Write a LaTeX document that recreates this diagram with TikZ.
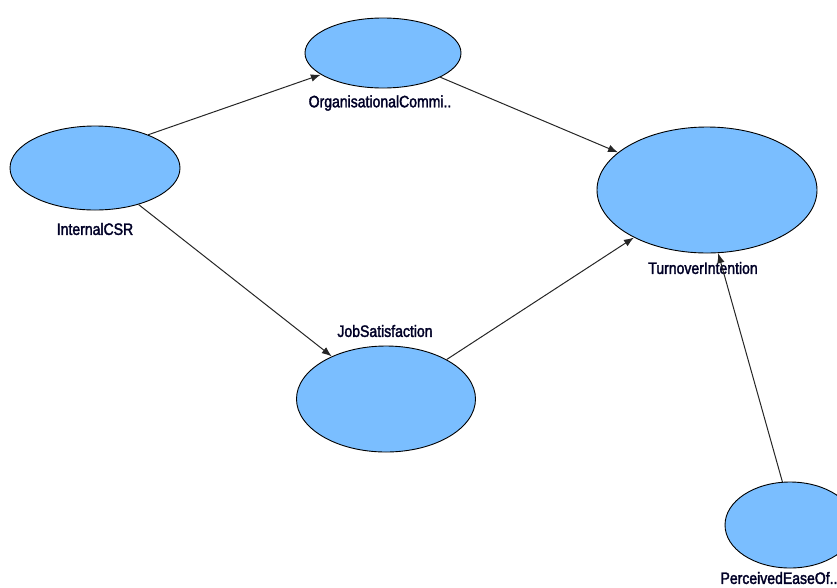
\documentclass[tikz,border=0pt]{standalone}
\usepackage{fontspec}
\newfontfamily\lblfont[FakeStretch=0.85,FakeBold=2]{Liberation Sans}
\usetikzlibrary{shapes.geometric,arrows.meta}
\definecolor{ovalblue}{RGB}{122,190,255}
\tikzset{
  latent/.style={ellipse,draw=black,line width=0.9pt,fill=ovalblue,inner sep=0pt},
  lbl/.style={font=\lblfont\fontsize{16.5}{18}\selectfont,text=black!85!blue,inner sep=0pt},
  path/.style={-{Latex[length=10pt,width=7.5pt]},line width=1pt,black!85}
}
\begin{document}
\begin{tikzpicture}[x=1pt,y=-1pt]
\useasboundingbox (0,0) rectangle (837,587);
\node[latent,minimum width=156pt,minimum height=70pt] (oc) at (383,53) {};
\node[latent,minimum width=170pt,minimum height=84pt] (csr) at (95,168) {};
\node[latent,minimum width=179pt,minimum height=106pt] (js) at (386,399) {};
\node[latent,minimum width=220pt,minimum height=126pt] (ti) at (707,190) {};
\node[latent,minimum width=130pt,minimum height=86pt] (pe) at (790,525) {};
\node[lbl] (ocl) at (380,103) {OrganisationalCommi..};
\node[lbl] (csrl) at (95,229) {InternalCSR};
\node[lbl] (jsl) at (385,331) {JobSatisfaction};
\node[lbl] (til) at (703,268) {TurnoverIntention};
\node[lbl] (pel) at (779,578) {PerceivedEaseOf..};
\draw[path] (csr.32) -- (oc);
\draw[path] (oc) -- (ti);
\draw[path] (csr.-40) -- (js);
\draw[path] (js) -- (ti);
\draw[path] (pe.100) -- (ti.-80);
\end{tikzpicture}
\end{document}
